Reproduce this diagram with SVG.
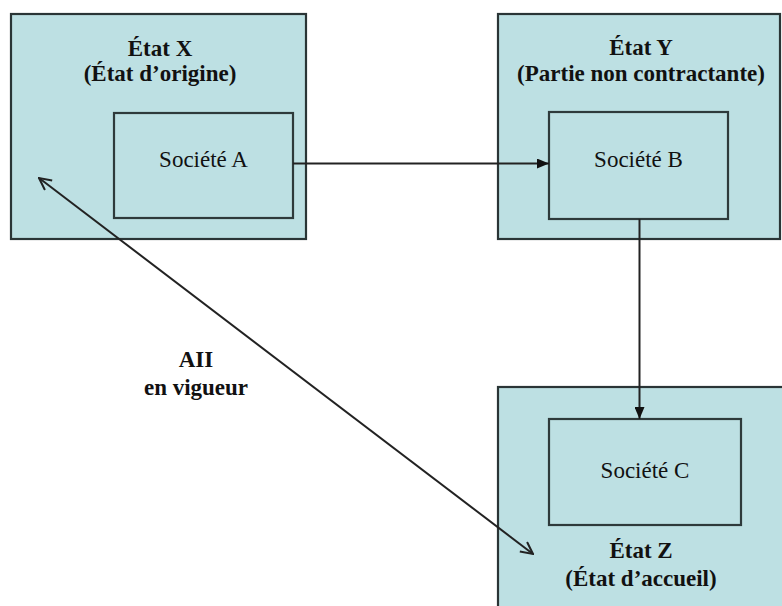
<svg xmlns="http://www.w3.org/2000/svg" width="782" height="606" viewBox="0 0 782 606">
  <style>
    .state { fill: #bde0e3; stroke: #2a3536; stroke-width: 2.2; }
    .company { fill: #bde0e3; stroke: #2e3a3b; stroke-width: 2.2; }
    text { font-family: 'Liberation Serif', Tinos, 'DejaVu Serif', serif; font-size: 23px; fill: #111; text-anchor: middle; }
    .title { font-weight: bold; }
    .link { fill: none; stroke: #222; stroke-width: 2; }
  </style>
  <defs>
    <marker id="solid" viewBox="0 0 12 10" refX="12" refY="5" markerWidth="12" markerHeight="10" markerUnits="userSpaceOnUse" orient="auto">
      <path d="M0,0 L12,5 L0,10 Z" fill="#111"/>
    </marker>
    <marker id="open" viewBox="0 0 14 14" refX="13" refY="7" markerWidth="14" markerHeight="14" markerUnits="userSpaceOnUse" orient="auto-start-reverse">
      <path d="M1,1 L13,7 L1,13" fill="none" stroke="#222" stroke-width="2"/>
    </marker>
  </defs>

  <!-- State X with company A -->
  <g id="etat-x">
    <rect class="state" x="11" y="14" width="295" height="225"/>
    <text class="title" x="160" y="56">État X</text>
    <text class="title" x="160" y="81">(État d’origine)</text>
  </g>
  <g id="societe-a">
    <rect class="company" x="114" y="113" width="179" height="105"/>
    <text class="label" x="203.5" y="167">Société A</text>
  </g>

  <!-- State Y with company B -->
  <g id="etat-y">
    <rect class="state" x="498" y="14" width="282" height="225"/>
    <text class="title" x="641" y="55">État Y</text>
    <text class="title" x="641" y="81">(Partie non contractante)</text>
  </g>
  <g id="societe-b">
    <rect class="company" x="549" y="112" width="179" height="107"/>
    <text class="label" x="638.5" y="167">Société B</text>
  </g>

  <!-- State Z with company C -->
  <g id="etat-z">
    <rect class="state" x="498" y="387" width="290" height="225"/>
    <text class="title" x="641" y="558">État Z</text>
    <text class="title" x="641" y="586">(État d’accueil)</text>
  </g>
  <g id="societe-c">
    <rect class="company" x="549" y="419" width="192" height="106"/>
    <text class="label" x="645" y="478">Société C</text>
  </g>

  <!-- Connectors -->
  <g id="connectors">
    <line class="link" x1="293" y1="163.5" x2="549" y2="163.5" marker-end="url(#solid)"/>
    <line class="link" x1="639.5" y1="219" x2="639.5" y2="419" marker-end="url(#solid)"/>
    <line class="link" x1="39" y1="178" x2="533" y2="554" marker-start="url(#open)" marker-end="url(#open)"/>
    <text class="title" x="196" y="367">AII</text>
    <text class="title" x="196" y="395">en vigueur</text>
  </g>
</svg>
